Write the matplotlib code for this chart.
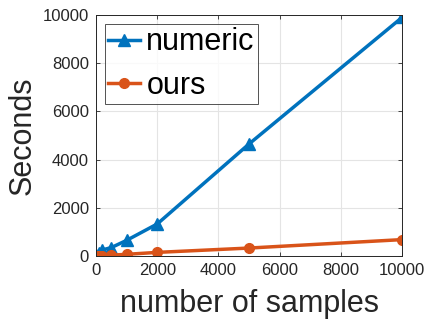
import matplotlib
matplotlib.use("Agg")
import matplotlib.pyplot as plt

samples = [10, 50, 100, 200, 500, 1000, 2000, 5000, 10000]
numeric = [20, 60, 120, 250, 350, 650, 1330, 4650, 9900]
ours = [2, 5, 10, 20, 35, 70, 150, 330, 680]
xticks = [0, 2000, 4000, 6000, 8000, 10000]
yticks = [0, 2000, 4000, 6000, 8000, 10000]

plt.rcParams['font.family'] = ['Liberation Sans', 'DejaVu Sans']
fig = plt.figure(figsize=(4.25, 3.2), dpi=100)
ax = fig.add_axes([0.226, 0.2, 0.72, 0.753])
ax.plot(samples, numeric, color='#0072BD', lw=2.5, marker='^', ms=8, label='numeric')
ax.plot(samples, ours, color='#D95319', lw=2.5, marker='o', ms=7, label='ours')
ax.set_xlim(0, 10000)
ax.set_ylim(0, 10000)
ax.set_xticks(xticks)
ax.set_yticks(yticks)
ax.tick_params(labelsize=12, colors='#262626', direction='in', length=3, width=0.6,
               top=True, right=True, pad=5)
ax.grid(True, color='#e4e4e4', lw=0.8)
ax.set_axisbelow(True)
for s in ax.spines.values():
    s.set_color('#262626')
    s.set_linewidth(0.7)
ax.set_xlabel('number of samples', fontsize=22, color='#262626', labelpad=8)
ax.set_ylabel('Seconds', fontsize=22, color='#262626', labelpad=4)
leg = ax.legend(loc='upper left', fontsize=22, frameon=True, fancybox=False,
                edgecolor='#262626', handlelength=1.05, handletextpad=0.2,
                borderpad=0.1, labelspacing=0.45, borderaxespad=0.3)
leg.get_frame().set_linewidth(0.7)
fig.savefig('out.png', dpi=100)
